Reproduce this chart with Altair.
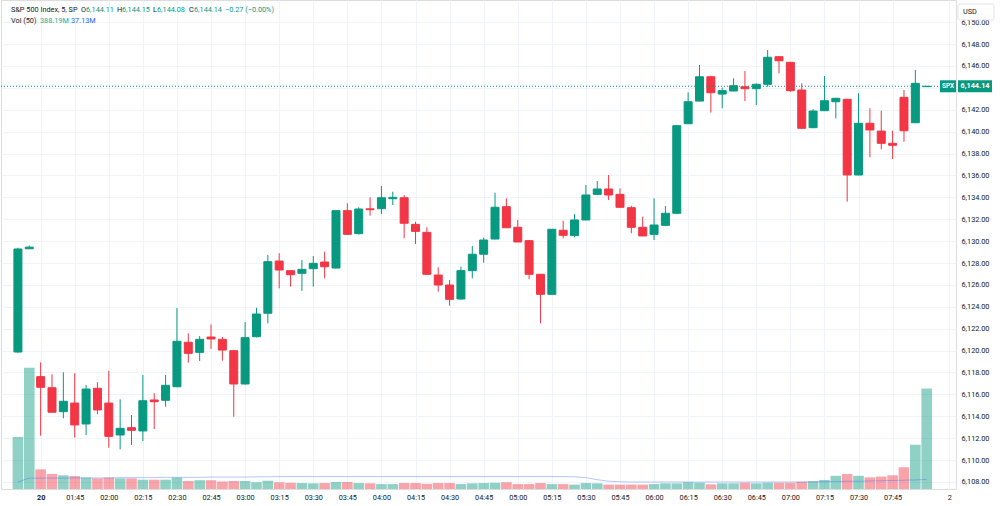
import altair as alt
import pandas as pd

# bar index: 0 = 01:30 (first bar of the 20th), one bar = 5 minutes
bar_index = list(range(-2, 79))

opens = [6119.87, 6129.30,
         6117.62, 6116.61, 6114.42, 6115.21, 6113.30, 6116.56, 6115.21, 6112.29, 6112.96, 6112.66,
         6115.49, 6115.46, 6116.70, 6120.76, 6119.84, 6121.24, 6121.03, 6119.99, 6116.95, 6121.27,
         6123.41, 6128.18, 6127.30, 6127.06, 6127.48, 6128.09, 6127.54, 6132.78, 6130.68, 6132.95,
         6132.96, 6133.87, 6133.96, 6131.53, 6130.80, 6126.90, 6125.99, 6124.71, 6127.30, 6128.80,
         6130.19, 6133.14, 6131.26, 6130.04, 6126.97, 6125.14, 6130.99, 6130.50, 6131.93, 6134.27,
         6134.76, 6134.27, 6133.05, 6131.26, 6130.62, 6131.44, 6132.54, 6140.72, 6142.79, 6145.01,
         6143.43, 6143.71, 6144.10, 6143.92, 6144.32, 6146.84, 6146.33, 6143.80, 6140.36, 6141.91,
         6142.73, 6142.95, 6136.04, 6140.76, 6140.05, 6138.93, 6143.13, 6140.81, 6144.11]
highs = [6129.40, 6129.60,
         6118.93, 6117.84, 6118.02, 6117.93, 6116.86, 6117.11, 6118.16, 6115.55, 6114.12, 6117.77,
         6116.10, 6117.77, 6123.89, 6121.58, 6121.33, 6122.40, 6121.24, 6120.05, 6122.61, 6123.92,
         6128.73, 6128.89, 6127.35, 6128.27, 6128.64, 6129.03, 6132.80, 6133.45, 6133.09, 6134.00,
         6135.03, 6134.51, 6134.21, 6131.77, 6131.26, 6127.61, 6126.45, 6127.67, 6129.55, 6130.31,
         6134.42, 6133.91, 6131.93, 6130.10, 6127.00, 6131.10, 6131.86, 6132.47, 6135.12, 6135.49,
         6136.04, 6134.82, 6133.23, 6132.23, 6133.91, 6133.21, 6140.56, 6143.59, 6146.08, 6145.10,
         6144.01, 6144.87, 6145.53, 6144.40, 6147.45, 6146.90, 6146.36, 6144.41, 6142.06, 6145.08,
         6143.10, 6143.00, 6143.50, 6142.13, 6141.91, 6140.08, 6143.80, 6145.63, 6144.15]
lows = [6119.80, 6129.30,
        6112.23, 6114.37, 6113.82, 6112.05, 6112.29, 6114.19, 6111.13, 6110.99, 6111.38, 6111.74,
        6112.84, 6114.88, 6116.65, 6118.90, 6119.05, 6120.15, 6119.08, 6113.96, 6116.90, 6121.20,
        6122.49, 6125.69, 6125.84, 6125.45, 6125.84, 6126.60, 6127.50, 6130.60, 6130.60, 6132.32,
        6132.47, 6133.30, 6130.26, 6129.74, 6126.95, 6125.38, 6124.10, 6124.65, 6126.60, 6128.03,
        6130.15, 6131.20, 6129.90, 6126.51, 6122.49, 6125.10, 6130.26, 6130.35, 6131.90, 6134.20,
        6133.75, 6133.05, 6130.71, 6130.45, 6130.10, 6131.40, 6132.50, 6140.70, 6142.75, 6141.73,
        6142.13, 6143.68, 6142.79, 6142.43, 6144.10, 6145.32, 6143.64, 6140.28, 6140.30, 6141.88,
        6141.21, 6133.60, 6136.00, 6137.65, 6138.38, 6137.50, 6139.08, 6140.80, 6144.08]
closes = [6129.28, 6129.45,
          6116.65, 6114.37, 6115.37, 6113.21, 6116.49, 6114.58, 6112.17, 6112.90, 6112.72, 6115.42,
          6115.33, 6116.83, 6120.85, 6119.75, 6121.03, 6121.06, 6120.05, 6116.95, 6121.18, 6123.34,
          6128.12, 6127.36, 6126.93, 6127.42, 6127.97, 6127.66, 6132.78, 6130.62, 6132.93, 6132.87,
          6133.96, 6134.00, 6131.63, 6130.89, 6126.97, 6125.99, 6124.68, 6127.30, 6128.80, 6130.10,
          6133.09, 6131.22, 6129.92, 6126.97, 6125.14, 6131.08, 6130.53, 6131.93, 6134.21, 6134.76,
          6134.21, 6133.09, 6131.26, 6130.47, 6131.47, 6132.54, 6140.54, 6142.73, 6145.01, 6143.55,
          6143.74, 6144.19, 6143.92, 6144.32, 6146.79, 6146.47, 6143.74, 6140.30, 6141.88, 6142.82,
          6143.04, 6136.04, 6140.76, 6140.15, 6138.93, 6138.75, 6140.08, 6144.41, 6144.14]
# volume in millions
volumes = [201, 469,
           76, 58, 53, 50, 44, 41, 44, 41, 41, 36,
           36, 36, 44, 31, 34, 34, 29, 31, 31, 26,
           32, 26, 24, 23, 22, 23, 27, 27, 23, 22,
           19, 19, 23, 23, 20, 23, 23, 19, 22, 23,
           24, 26, 19, 19, 23, 19, 19, 17, 23, 22,
           17, 17, 17, 17, 19, 22, 22, 26, 24, 18,
           22, 22, 24, 22, 24, 24, 24, 28, 30, 35,
           51, 58, 51, 45, 48, 53, 84, 171, 388.19]
# 50-bar moving average of volume, in millions
volume_ma = [27, 42,
             42, 42, 42, 43, 43, 43, 43, 44, 44, 44,
             44, 45, 45, 45, 45, 46, 46, 46, 46, 47,
             47, 48, 48, 48, 48, 48, 48, 48, 48, 48,
             48, 48, 48, 48, 48, 48, 48, 48, 48, 48,
             48, 48, 48, 48, 48, 48, 48, 47, 44, 36,
             30, 28, 27, 27, 27, 27, 27, 27, 27, 27,
             27, 27, 27, 27, 27, 27, 27, 27, 28, 28,
             29, 30, 30, 31, 32, 33, 34, 35, 37.13]

tick_index = [0, 3, 6, 9, 12, 15, 18, 21, 24, 27, 30, 33, 36, 39, 42, 45, 48, 51, 54, 57,
              60, 63, 66, 69, 72, 75, 80]
tick_labels = ["20", "01:45", "02:00", "02:15", "02:30", "02:45", "03:00", "03:15", "03:30",
               "03:45", "04:00", "04:15", "04:30", "04:45", "05:00", "05:15", "05:30", "05:45",
               "06:00", "06:15", "06:30", "06:45", "07:00", "07:15", "07:30", "07:45", "2"]
price_ticks = list(range(6108, 6151, 2))

UP = "#089981"
DOWN = "#F23645"
TEXT = "#131722"
GRID = "#F0F3FA"
FONT = "Roboto"
FS = 7.3

df = pd.DataFrame({"i": bar_index, "open": opens, "high": highs, "low": lows,
                   "close": closes, "volume": volumes, "ma": volume_ma})
df["dir"] = ["up" if c >= o else "down" for o, c in zip(opens, closes)]

last_close = closes[-1]
change = closes[-1] - closes[-2]

W, H = 955, 489

label_expr = "".join(f"datum.value == {v} ? '{t}' : " for v, t in zip(tick_index, tick_labels)) + "''"

x_axis = alt.Axis(values=tick_index, labelExpr=label_expr, title=None, grid=True, gridColor=GRID,
                  gridWidth=1, ticks=False, domain=False, labelFont=FONT, labelFontSize=FS,
                  labelColor=TEXT, labelPadding=4,
                  labelFontWeight={"condition": {"test": "datum.value == 0", "value": "bold"},
                                   "value": "normal"})
x_enc = alt.X("i:Q", scale=alt.Scale(domain=[-3.049, 80.14], nice=False, zero=False), axis=x_axis)

price_scale = alt.Scale(domain=[6107.36, 6152.02], nice=False, zero=False)
# the label under the last-price tag is hidden, as in the reference
y_axis = alt.Axis(values=price_ticks, format=",.2f", orient="right", title=None, grid=True,
                  labelExpr=f"datum.value == {round(last_close / 2) * 2} ? '' : datum.label",
                  gridColor=GRID, ticks=False, domain=False, labelFont=FONT, labelFontSize=FS,
                  labelColor=TEXT, labelPadding=5)

color_scale = alt.Scale(domain=["up", "down"], range=[UP, DOWN])

base = alt.Chart(df)

vol_bars = base.mark_bar(size=10.6, opacity=0.45).encode(
    x=x_enc,
    y=alt.Y("volume:Q", scale=alt.Scale(domain=[0, 1890], nice=False), axis=None),
    color=alt.Color("dir:N", scale=color_scale, legend=None),
)
vol_ma = base.mark_line(color="#2962FF", opacity=0.35, strokeWidth=1).encode(
    x=x_enc,
    y=alt.Y("ma:Q", scale=alt.Scale(domain=[0, 1890], nice=False), axis=None),
)
volume_layer = alt.layer(vol_bars, vol_ma)

wicks = base.mark_rule(strokeWidth=1).encode(
    x=x_enc,
    y=alt.Y("low:Q", scale=price_scale, axis=y_axis),
    y2="high:Q",
    color=alt.Color("dir:N", scale=color_scale, legend=None),
)
bodies = base.mark_bar(size=8, strokeWidth=1).encode(
    x=x_enc,
    y=alt.Y("open:Q", scale=price_scale, axis=y_axis),
    y2="close:Q",
    color=alt.Color("dir:N", scale=color_scale, legend=None),
    stroke=alt.Stroke("dir:N", scale=color_scale, legend=None),
)

last_df = pd.DataFrame({"price": [last_close], "label": [f"{last_close:,.2f}"]})
last_base = alt.Chart(last_df)
price_line = last_base.mark_rule(color=UP, strokeDash=[1, 2], strokeWidth=1).encode(
    y=alt.Y("price:Q", scale=price_scale, axis=y_axis))
spx_box = last_base.mark_rect(color=UP, yOffset=-6, y2Offset=6).encode(
    x=alt.value(939), x2=alt.value(955),
    y=alt.Y("price:Q", scale=price_scale, axis=y_axis), y2="price:Q")
spx_text = last_base.mark_text(text="SPX", color="white", font=FONT, fontSize=6.5,
                               fontWeight="bold", align="center", baseline="middle").encode(
    x=alt.value(947), y=alt.Y("price:Q", scale=price_scale, axis=y_axis))
tag_box = last_base.mark_rect(color=UP, yOffset=-6, y2Offset=6).encode(
    x=alt.value(957), x2=alt.value(991),
    y=alt.Y("price:Q", scale=price_scale, axis=y_axis), y2="price:Q")
tag_text = last_base.mark_text(color="white", font=FONT, fontSize=FS, fontWeight="bold",
                               align="center", baseline="middle").encode(
    x=alt.value(974), y=alt.Y("price:Q", scale=price_scale, axis=y_axis), text="label:N")

one = pd.DataFrame({"k": [0]})
usd_box = alt.Chart(one).mark_rect(fill="white", stroke="#E0E3EB", strokeWidth=1,
                                   cornerRadius=2).encode(
    x=alt.value(957), x2=alt.value(993), y=alt.value(4), y2=alt.value(20))
usd_text = alt.Chart(one).mark_text(text="USD", font=FONT, fontSize=FS, color=TEXT,
                                    align="left", baseline="middle").encode(
    x=alt.value(962), y=alt.value(12))


def header(text, x, y, color, weight="normal"):
    return alt.Chart(one).mark_text(text=text, font=FONT, fontSize=FS, color=color, align="left",
                                    baseline="middle", fontWeight=weight).encode(
        x=alt.value(x), y=alt.value(y))


hdr = [
    header("S&P 500 Index, 5, SP", 10, 10, TEXT),
    header("O", 80, 10, TEXT), header(f"{opens[-1]:,.2f}", 85, 10, UP),
    header("H", 116, 10, TEXT), header(f"{highs[-1]:,.2f}", 121, 10, UP),
    header("L", 152, 10, TEXT), header(f"{lows[-1]:,.2f}", 156, 10, UP),
    header("C", 188, 10, TEXT), header(f"{closes[-1]:,.2f}", 193, 10, UP),
    header(f"\u2212{abs(change):.2f} (\u2212{abs(change) / closes[-2] * 100:.2f}%)", 224, 10, UP),
    header("Vol (50)", 10, 21, TEXT),
    header(f"{volumes[-1]:.2f}M", 39, 21, "#22AB94"),
    header(f"{volume_ma[-1]:.2f}M", 70, 21, "#2962FF"),
]

price_layer = alt.layer(wicks, bodies, price_line, spx_box, spx_text, tag_box, tag_text,
                        usd_box, usd_text, *hdr)

chart = alt.layer(volume_layer, price_layer).resolve_scale(y="independent").properties(
    width=W, height=H, padding={"left": 0, "top": 0, "right": 0, "bottom": 0}
).configure_view(stroke=None).configure(background="white")

chart.save("out.html", embed_options={"renderer": "svg", "actions": False})
